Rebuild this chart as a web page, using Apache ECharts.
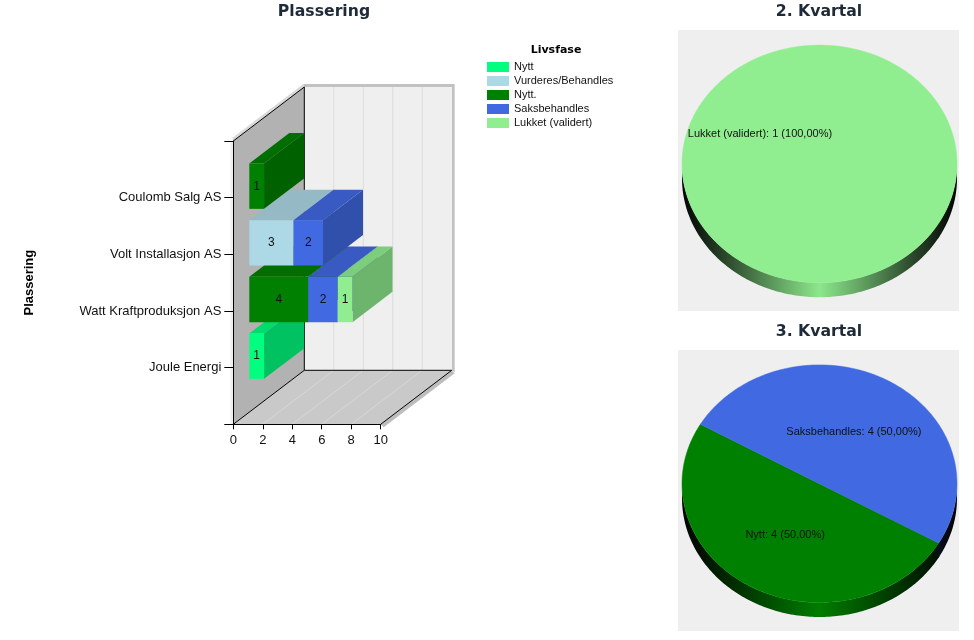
<!DOCTYPE html>
<html><head><meta charset="utf-8">
<style>html,body{margin:0;padding:0;background:#fff}#c{width:974px;height:640px}</style>
<script src="https://cdn.jsdelivr.net/npm/echarts@6/dist/echarts.min.js"></script>
</head><body><div id="c"></div>
<script>
const categories = ['', 'Joule Energi', 'Watt Kraftproduksjon AS', 'Volt Installasjon AS', 'Coulomb Salg AS', ''];
const xTicks = [0, 2, 4, 6, 8, 10];
const stageNames = ['Nytt', 'Vurderes/Behandles', 'Nytt.', 'Saksbehandles', 'Lukket (validert)'];
const stageColors = ['#00FF7F', '#ADD8E6', '#008000', '#4169E1', '#90EE90'];
const nyttValues        = [0, 1, 0, 0, 0, 0];
const vurderesValues    = [0, 0, 0, 3, 0, 0];
const nyttDotValues     = [0, 0, 4, 0, 1, 0];
const saksValues        = [0, 0, 2, 2, 0, 0];
const lukketValues      = [0, 0, 1, 0, 0, 0];
const stageValues = [nyttValues, vurderesValues, nyttDotValues, saksValues, lukketValues];

const q2Names = ['Lukket (validert)'];
const q2Values = [1];
const q2Colors = ['#90EE90'];
const q3Names = ['Nytt', 'Saksbehandles'];
const q3Values = [4, 4];
const q3Colors = ['#008000', '#4169E1'];

const FONT = '"Liberation Sans", Arial, sans-serif';
const DEPTH = {x: 71, y: 54, barFront: 16, barBack: 56};
const yr = DEPTH.y / DEPTH.x;

function shade(hex, k) {
  const n = parseInt(hex.slice(1), 16);
  const c = [n >> 16, (n >> 8) & 255, n & 255].map(v => Math.round(v * k));
  return 'rgb(' + c.join(',') + ')';
}

function wallsItem(params, api) {
  const a = api.coord([0, 0]), b = api.coord([10, 0]), t = api.coord([0, 5]), tr = api.coord([10, 5]);
  const d = ([x, y]) => [x + DEPTH.x, y - DEPTH.y];
  const ch = [];
  const poly = (pts, fill) => ch.push({type: 'polygon', shape: {points: pts}, style: {fill: fill}});
  const line = (p, q, c, w) => ch.push({type: 'line', shape: {x1: p[0], y1: p[1], x2: q[0], y2: q[1]}, style: {stroke: c, lineWidth: w}});
  // outer wall thickness
  poly([[t[0]-3, t[1]], [t[0], t[1]], [a[0], a[1]], [a[0]-3, a[1]]], '#efefef');
  poly([[t[0]-1, t[1]-3], [d(t)[0]-1, d(t)[1]-3], d(t), t], '#d9d9d9');
  poly([[d(t)[0]-1, d(t)[1]-3], [d(tr)[0]+3, d(tr)[1]-3], [d(b)[0]+3, d(b)[1]+2], [d(b)[0], d(b)[1]], d(tr), d(t)], '#c2c2c2');
  poly([b, d(b), [d(b)[0]+3, d(b)[1]+3], [b[0]+3, b[1]+3]], '#bdbdbd');
  // back wall, floor, left wall
  poly([d(t), d(tr), d(b), d(a)], '#efefef');
  poly([a, b, d(b), d(a)], '#c9c9c9');
  poly([a, t, d(t), d(a)], '#b2b2b2');
  xTicks.slice(1, -1).forEach(v => {
    const f = api.coord([v, 0]), g = api.coord([v, 5]);
    line(d(f), d(g), '#dcdcdc', 1);
    line(f, d(f), '#d8d8d8', 1);
  });
  line(t, d(t), '#000', 1);
  line(d(t), d(a), '#000', 1);
  line(a, d(a), '#000', 1);
  line(d(a), d(b), '#000', 1);
  line(b, d(b), '#000', 1);
  return {type: 'group', children: ch};
}

function barItem(stage) {
  return function (params, api) {
    const cat = api.value(0), s = api.value(1), e = api.value(2), v = api.value(3);
    const p0 = api.coord([s, cat]), p1 = api.coord([e, cat]);
    const h = api.size([0, 1])[1] * 0.4;
    const dx1 = DEPTH.barFront, dy1 = dx1 * yr - 0.7, dx2 = DEPTH.barBack - DEPTH.barFront, dy2 = dx2 * yr;
    const x0 = p0[0] + dx1, x1 = p1[0] + dx1, yc = p0[1] - dy1, top = yc - h, bot = yc + h;
    const col = stageColors[stage];
    const base = cat * 100 + stage * 4;
    return {type: 'group', children: [
      {type: 'polygon', z2: base + 1, shape: {points: [[x1, top], [x1 + dx2, top - dy2], [x1 + dx2, bot - dy2], [x1, bot]]}, style: {fill: shade(col, 0.76)}},
      {type: 'polygon', z2: base + 1, shape: {points: [[x0, top], [x0 + dx2, top - dy2], [x1 + dx2, top - dy2], [x1, top]]}, style: {fill: shade(col, 0.86)}},
      {type: 'rect', z2: base + 2, shape: {x: x0, y: top, width: x1 - x0, height: bot - top}, style: {fill: col}},
      {type: 'text', z2: base + 3, style: {text: String(v), x: (x0 + x1) / 2, y: yc, align: 'center', verticalAlign: 'middle', fill: '#111', font: '12px ' + FONT}}
    ]};
  };
}

function barData(vals) {
  return vals.map((v, i) => {
    let s = 0;
    for (let k = 0; k < stageValues.length && stageValues[k] !== vals; k++) s += stageValues[k][i];
    return [i, s, s + v, v];
  }).filter(d => d[3] > 0);
}

const PIE = {rx: 137.5, ry: 118.8, thick: 14.5, x: 819.5};
function pieItem(names, colors, cy) {
  return function (params, api) {
    const v = api.value(0), start = api.value(1), end = api.value(2);
    const col = colors[params.dataIndex];
    const rad = a => a * Math.PI / 180;
    const pt = (a, off, k) => [PIE.x + PIE.rx * (k || 1) * Math.cos(rad(a)), cy + (off || 0) + PIE.ry * (k || 1) * Math.sin(rad(a))];
    const top = end - start >= 360 ? [] : [[PIE.x, cy]];
    for (let a = start; a <= end + 0.001; a += 1) top.push(pt(a));
    const ch = [];
    const ranges = [[start, end], [start + 360, end + 360], [start - 360, end - 360]];
    ranges.forEach(([a0, a1]) => {
      const lo = Math.max(a0 - 0.6, 0), hi = Math.min(a1 + 0.6, 180);
      if (hi <= lo) return;
      const pts = [];
      for (let a = lo; a <= hi + 0.001; a += 1) pts.push(pt(a));
      pts.push(pt(hi));
      pts.push(pt(hi, PIE.thick));
      for (let a = hi; a >= lo - 0.001; a -= 1) pts.push(pt(a, PIE.thick));
      pts.push(pt(lo, PIE.thick));
      ch.push({type: 'polygon', z2: 1, shape: {points: pts}, style: {fill: {
        type: 'linear', global: true, x: PIE.x - PIE.rx, y: 0, x2: PIE.x + PIE.rx, y2: 0,
        colorStops: [
          {offset: 0, color: shade(col, 0.02)}, {offset: 0.05, color: shade(col, 0.1)},
          {offset: 0.15, color: shade(col, 0.28)}, {offset: 0.25, color: shade(col, 0.48)},
          {offset: 0.4, color: shade(col, 0.78)}, {offset: 0.5, color: shade(col, 0.97)},
          {offset: 0.6, color: shade(col, 0.78)}, {offset: 0.75, color: shade(col, 0.48)},
          {offset: 0.85, color: shade(col, 0.28)}, {offset: 0.95, color: shade(col, 0.1)},
          {offset: 1, color: shade(col, 0.02)}]
      }}});
    });
    ch.push({type: 'polygon', z2: 2, shape: {points: top}, style: {fill: col, stroke: col, lineWidth: 0.5}});
    const mid = pt((start + end) / 2, 0, 0.5);
    const pct = (v / params.context.total * 100).toFixed(2).replace('.', ',');
    ch.push({type: 'text', z2: 3, style: {text: names[params.dataIndex] + ': ' + v + ' (' + pct + '%)', x: mid[0], y: mid[1], align: 'center', verticalAlign: 'middle', fill: '#111', font: '11px ' + FONT}});
    return {type: 'group', children: ch};
  };
}
function pieData(vals) {
  const total = vals.reduce((a, b) => a + b, 0);
  let a = 30;
  return vals.map(v => { const s = a; a += v / total * 360; return [v, s, a]; });
}
function pieSeries(name, names, vals, colors, cy) {
  const ri = pieItem(names, colors, cy);
  const total = vals.reduce((a, b) => a + b, 0);
  return {type: 'custom', name, coordinateSystem: 'none', silent: true, data: pieData(vals),
    renderItem: (p, api) => { p.context.total = total; return ri(p, api); }};
}

const titleStyle = {fontFamily: '"DejaVu Sans", Verdana, sans-serif', fontWeight: 'bold', fontSize: 15.7, color: '#1e2a38'};
const option = {
  animation: false,
  backgroundColor: '#fff',
  title: [
    {text: 'Plassering', left: 324, top: 4, textAlign: 'center', padding: 0, textStyle: titleStyle},
    {text: '2. Kvartal', left: 819, top: 4, textAlign: 'center', padding: 0, textStyle: titleStyle},
    {text: '3. Kvartal', left: 819, top: 324, textAlign: 'center', padding: 0, textStyle: titleStyle},
    {text: 'Livsfase', left: 556, top: 45, textAlign: 'center', padding: 0, textStyle: {fontFamily: '"DejaVu Sans", sans-serif', fontWeight: 'bold', fontSize: 11, color: '#000'}}
  ],
  legend: {
    data: stageNames, orient: 'vertical', left: 487, top: 61.5, padding: 0,
    itemWidth: 22, itemHeight: 10, itemGap: 3, icon: 'rect', selectedMode: false,
    textStyle: {fontFamily: FONT, fontSize: 11, color: '#111', padding: 0, lineHeight: 10}
  },
  graphic: [
    {type: 'rect', silent: true, z: -10, shape: {x: 678, y: 30, width: 281, height: 281}, style: {fill: '#efefef'}},
    {type: 'rect', silent: true, z: -10, shape: {x: 678, y: 350, width: 281, height: 281}, style: {fill: '#efefef'}}
  ],
  grid: {left: 233.3, top: 141, width: 147.4, height: 283.3, containLabel: false, show: false},
  xAxis: {
    type: 'value', min: 0, max: 10, interval: 2, z: 10,
    axisLine: {show: true, lineStyle: {color: '#000', width: 1}},
    axisTick: {show: true, length: 5, lineStyle: {color: '#000'}},
    axisLabel: {fontFamily: FONT, fontSize: 13, color: '#111', margin: 10, showMinLabel: true, showMaxLabel: true},
    splitLine: {show: false}
  },
  yAxis: {
    type: 'category', data: categories, boundaryGap: false, z: 10,
    name: 'Plassering', nameLocation: 'middle', nameGap: 197, nameRotate: 90,
    nameTextStyle: {fontFamily: FONT, fontWeight: 'bold', fontSize: 13, color: '#000'},
    axisLine: {show: true, lineStyle: {color: '#000', width: 1}},
    axisTick: {show: true, length: 9, alignWithLabel: true, interval: 0, lineStyle: {color: '#000'}},
    axisLabel: {fontFamily: FONT, fontSize: 13, color: '#111', margin: 12, interval: 0},
    splitLine: {show: false}
  },
  series: [
    {type: 'custom', name: 'walls', coordinateSystem: 'cartesian2d', silent: true, z: 1, data: [[0, 0]], renderItem: wallsItem, clip: false},
    ...stageNames.map((n, i) => ({
      type: 'custom', name: n, coordinateSystem: 'cartesian2d', silent: true, z: 2, clip: false,
      itemStyle: {color: stageColors[i]},
      encode: {y: 0, x: [1, 2]},
      data: barData(stageValues[i]), renderItem: barItem(i)
    })),
    pieSeries('q2', q2Names, q2Values, q2Colors, 163.9),
    pieSeries('q3', q3Names, q3Values, q3Colors, 483.7)
  ]
};
echarts.init(document.getElementById('c'), null, {renderer: 'canvas'}).setOption(option);
</script></body></html>
